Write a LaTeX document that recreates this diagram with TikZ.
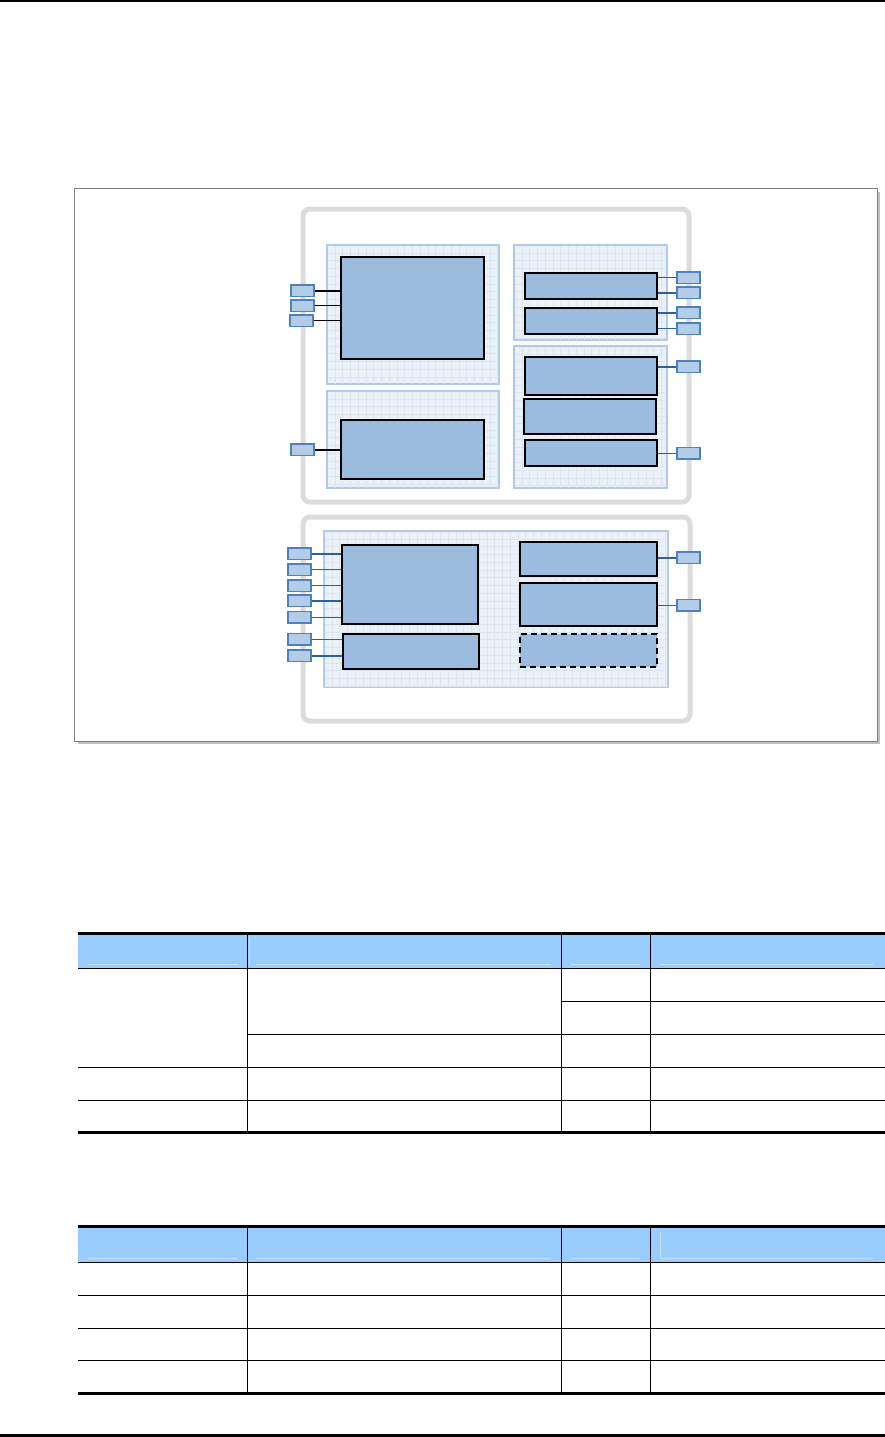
\documentclass[tikz,border=0pt]{standalone}
\definecolor{grayfr}{HTML}{DCDCDC}
\definecolor{panelf}{HTML}{EAF1F9}
\definecolor{panelb}{HTML}{B3C9E8}
\definecolor{gridc}{HTML}{DCE5F2}
\definecolor{blockf}{HTML}{9BBBDF}
\definecolor{portf}{HTML}{B3CDE8}
\definecolor{portb}{HTML}{4F81BD}
\definecolor{connb}{HTML}{2E6099}
\definecolor{headf}{HTML}{99CCFF}
\definecolor{headl}{HTML}{C6E2FF}
\definecolor{framec}{HTML}{808080}
\definecolor{shadowc}{HTML}{C0C0C0}
\tikzset{
  x=1pt,y=-1pt,
  grayframe/.style={draw=grayfr, line width=5pt, rounded corners=7pt},
  panel/.style={draw=panelb, line width=1.5pt, fill=panelf, inner sep=0pt, outer sep=0pt},
  gridl/.style={draw=gridc, line width=0.5pt},
  blockA/.style={draw=black, line width=1.9pt, fill=blockf, inner sep=0pt},
  blockB/.style={blockA, line width=2.4pt},
  blockD/.style={blockA, dash pattern=on 6pt off 4pt},
  port/.style={draw=portb, line width=1.6pt, fill=portf, inner sep=0pt, minimum width=23pt, minimum height=11.5pt},
  kthin/.style={draw=black, line width=0.9pt},
  kthick/.style={draw=black, line width=2pt},
  bthin/.style={draw=connb, line width=1pt},
  bthick/.style={draw=connb, line width=2.2pt},
  rowline/.style={draw=black, line width=1pt},
  heavyrule/.style={draw=black, line width=3pt},
  headline/.style={draw=headl, line width=1pt},
}
\newcommand\gpanel[5]{%
  \node[panel, minimum width={#4-#2}, minimum height={#5-#3}] (#1) at ({(#2+#4)/2},{(#3+#5)/2}) {};
  \begin{scope}
    \clip (#2+1,#3+1) rectangle (#4-1,#5-1);
    \foreach \i in {1,...,45}{%
      \draw[gridl] ({#2+\i*7.75},#3) -- ({#2+\i*7.75},#5);
      \draw[gridl] (#2,{#3+\i*7.75}) -- (#4,{#3+\i*7.75});}
  \end{scope}}
\newcommand\blk[6]{%
  \node[#2, minimum width={#5-#3}, minimum height={#6-#4}] (#1) at ({(#3+#5)/2},{(#4+#6)/2}) {};}
\newcommand\prt[3]{%
  \node[port] (#1) at ({#2+11.5},{#3+5.75}) {};}
\begin{document}
\begin{tikzpicture}
\useasboundingbox (0,0) rectangle (885,1437);
% page rules
\draw[draw=black, line width=1.6pt] (0,0.8) -- (885,0.8);
\draw[draw=black, line width=3pt] (0,1435) -- (885,1435);
% outer figure frame
\fill[shadowc] (78,192) rectangle (880,744);
\draw[draw=framec, fill=white, line width=1pt] (74,188.5) rectangle (877,741);
% gray rounded containers
\draw[grayframe] (303,209) rectangle (689,502);
\draw[grayframe] (303,517) rectangle (690,721);
% grid panels
\gpanel{pA}{327}{245}{499}{384}
\gpanel{pB}{327}{391}{499}{488}
\gpanel{pC}{514}{245}{667}{340}
\gpanel{pD}{514}{346}{667}{488}
\gpanel{pE}{324}{531}{668}{687}
% blocks
\blk{A1}{blockA}{341}{257}{484}{359}
\blk{B1}{blockA}{341}{420}{484}{479}
\blk{C1}{blockB}{525}{273}{657}{299}
\blk{C2}{blockA}{525}{308}{657}{334}
\blk{D1}{blockB}{525}{357}{657}{395}
\blk{D2}{blockB}{524}{399}{656}{434}
\blk{D3}{blockB}{525}{440}{657}{466}
\blk{E1}{blockA}{342}{545}{478}{624}
\blk{E2}{blockA}{343}{634}{479}{669}
\blk{E3}{blockB}{520}{542}{657}{576}
\blk{E4}{blockB}{520}{583}{657}{626}
\blk{E5}{blockD}{520}{634}{657}{667}
% ports
\prt{P1}{291}{285}
\prt{P2}{291}{300}
\prt{P3}{290}{315}
\prt{PB}{291}{444}
\prt{R1}{677}{272}
\prt{R2}{677}{287}
\prt{R3}{677}{307}
\prt{R4}{677}{323}
\prt{R5}{677}{361}
\prt{R6}{677}{447.5}
\prt{L1}{288}{548}
\prt{L2}{288}{564}
\prt{L3}{288}{580}
\prt{L4}{288}{595}
\prt{L5}{288}{611.5}
\prt{L6}{288}{633.5}
\prt{L7}{288}{650}
\prt{R7}{677}{552}
\prt{R8}{677}{599.5}
% connectors
\draw[kthick] (P1.east) -- (P1.east -| A1.west);
\draw[kthin] (P2.east) -- (P2.east -| A1.west);
\draw[kthin] (P3.east) -- (P3.east -| A1.west);
\draw[kthick] (PB.east) -- (PB.east -| B1.west);
\draw[bthin] (R1.west -| C1.east) -- (R1.west);
\draw[bthick] (R2.west -| C1.east) -- (R2.west);
\draw[bthick] (R3.west -| C2.east) -- (R3.west);
\draw[bthin] (R4.west -| C2.east) -- (R4.west);
\draw[bthick] (R5.west -| D1.east) -- (R5.west);
\draw[bthin] (R6.west -| D3.east) -- (R6.west);
\draw[bthick] (L1.east) -- (L1.east -| E1.west);
\draw[bthin] (L2.east) -- (L2.east -| E1.west);
\draw[bthin] (L3.east) -- (L3.east -| E1.west);
\draw[bthick] (L4.east) -- (L4.east -| E1.west);
\draw[bthin] (L5.east) -- (L5.east -| E1.west);
\draw[bthin] (L6.east) -- (L6.east -| E2.west);
\draw[bthick] (L7.east) -- (L7.east -| E2.west);
\draw[bthick] (R7.west -| E3.east) -- (R7.west);
\draw[bthin] (R8.west -| E4.east) -- (R8.west);
% ---------- table 1 ----------
\fill[headf] (78,935) rectangle (885,968.5);
\draw[headline] (88,964.5) -- (238,964.5);
\draw[headline] (256,964.5) -- (551,964.5);
\draw[headline] (571,964.5) -- (640,964.5);
\draw[headline] (660,964.5) -- (873,964.5);
\draw[headline] (249.5,937) -- (249.5,964.5);
\draw[heavyrule] (78,933.5) -- (885,933.5);
\draw[rowline] (78,968.5) -- (885,968.5);
\draw[rowline] (561,1001) -- (885,1001);
\draw[rowline] (247,1034) -- (885,1034);
\draw[rowline] (78,1067) -- (885,1067);
\draw[rowline] (78,1100) -- (885,1100);
\foreach \cx in {247,561,650} \draw[rowline] (\cx,935) -- (\cx,1132);
\draw[heavyrule] (78,1132.5) -- (885,1132.5);
% ---------- table 2 ----------
\fill[headf] (78,1227.5) rectangle (885,1262);
\draw[headline] (88,1258.3) -- (238,1258.3);
\draw[headline] (256,1258.3) -- (551,1258.3);
\draw[headline] (571,1258.3) -- (640,1258.3);
\draw[headline] (660,1258.3) -- (873,1258.3);
\draw[headline] (660,1232) -- (660,1258.3);
\draw[heavyrule] (78,1226) -- (885,1226);
\draw[rowline] (78,1262) -- (885,1262);
\draw[rowline] (78,1295.3) -- (885,1295.3);
\draw[rowline] (78,1328) -- (885,1328);
\draw[rowline] (78,1360.3) -- (885,1360.3);
\foreach \cx in {247,561,650} \draw[rowline] (\cx,1227.5) -- (\cx,1393);
\draw[heavyrule] (78,1393.3) -- (885,1393.3);
\end{tikzpicture}
\end{document}
